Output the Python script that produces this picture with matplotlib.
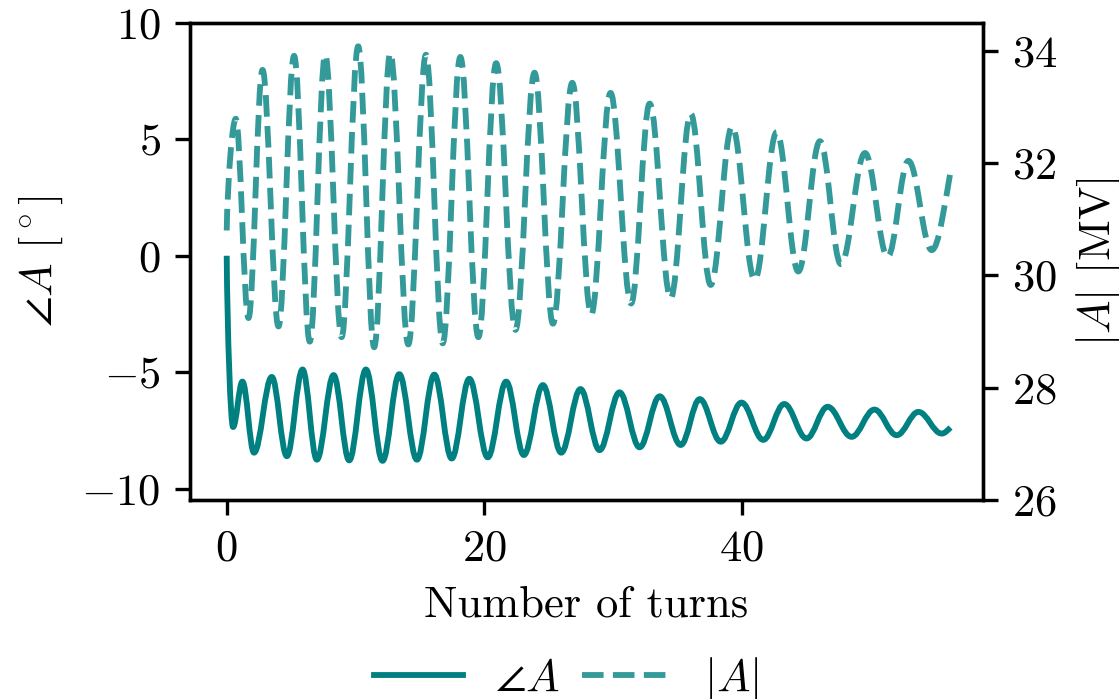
import matplotlib
matplotlib.use("Agg")
import matplotlib.pyplot as plt
from matplotlib.path import Path
from matplotlib.patches import PathPatch
from matplotlib.lines import Line2D

# ---- data (extrema of the oscillations) ----
angle_turns = [0, 0.49, 1.22, 2.12, 3.5, 4.67, 5.89, 7.0, 8.3, 9.51, 10.81, 12.1,
               13.4, 14.77, 16.12, 17.47, 18.84, 20.27, 21.7, 23.07, 24.55, 25.97,
               27.47, 28.95, 30.5, 32.06, 33.62, 35.25, 36.73, 38.36, 39.97, 41.66,
               43.29, 45.02, 46.66, 48.52, 50.29, 52.02, 53.71, 55.52, 56.2]
angle_deg = [0, -7.35, -5.4, -8.45, -5.2, -8.6, -4.88, -8.75, -5.12, -8.78, -4.88,
             -8.8, -5.08, -8.75, -5.1, -8.7, -5.28, -8.65, -5.4, -8.55, -5.55, -8.45,
             -5.72, -8.34, -5.86, -8.22, -6.03, -8.12, -6.15, -7.98, -6.3, -7.9,
             -6.36, -7.84, -6.48, -7.77, -6.6, -7.7, -6.7, -7.63, -7.37]

amp_turns = [0, 0.7, 1.69, 2.78, 4.02, 5.23, 6.45, 7.65, 8.92, 10.21, 11.45, 12.7,
             14.1, 15.47, 16.77, 18.14, 19.54, 20.92, 22.42, 23.9, 25.33, 26.83,
             28.3, 29.8, 31.4, 32.84, 34.47, 36.03, 37.58, 39.24, 41.0, 42.7, 44.38,
             46.06, 47.69, 49.56, 51.32, 52.93, 54.74, 56.2]
amp_MV = [30.8, 32.79, 29.24, 33.66, 29.09, 33.91, 28.82, 33.93, 28.9, 34.08, 28.72,
          33.96, 28.77, 33.93, 28.79, 33.89, 28.9, 33.78, 29.03, 33.61, 29.14, 33.43,
          29.3, 33.25, 29.5, 33.06, 29.59, 32.88, 29.83, 32.65, 29.92, 32.55, 30.07,
          32.39, 30.2, 32.18, 30.33, 32.04, 30.45, 31.85]

x_ticks = [0, 20, 40]
left_ticks = [-10, -5, 0, 5, 10]
right_ticks = [26, 28, 30, 32, 34]

labels = [r"$\angle A$", r"${|}A{|}$"]
xlabel = "Number of turns"
ylabel_left = r"$\angle A$ [$^\circ$]"
ylabel_right = r"${|}A{|}$ [MV]"

# ---- style ----
plt.rcParams["font.family"] = "serif"
plt.rcParams["font.serif"] = ["cmr10"]
plt.rcParams["mathtext.fontset"] = "cm"
plt.rcParams["axes.formatter.use_mathtext"] = True
plt.rcParams["font.size"] = 10.7
plt.rcParams["axes.unicode_minus"] = True

LW = 1.4
solid_color = "teal"
dash_alpha = 0.8


def smooth_path(xs, ys, k=0.37, free_start=False, free_end=False):
    """Cubic Bezier path through the extrema with flat tangents at each extremum."""
    verts = [(xs[0], ys[0])]
    codes = [Path.MOVETO]
    n = len(xs)
    for i in range(n - 1):
        x0, y0, x1, y1 = xs[i], ys[i], xs[i + 1], ys[i + 1]
        dx = x1 - x0
        c1 = (x0 + k * dx, y0)
        c2 = (x1 - k * dx, y1)
        if i == 0 and free_start:
            c1 = (x0 + 0.1 * dx, y0 + 0.45 * (y1 - y0))
        if i == n - 2 and free_end:
            c2 = (x1 - 0.3 * dx, y1 - 0.4 * (y1 - y0))
        verts += [c1, c2, (x1, y1)]
        codes += [Path.CURVE4] * 3
    return Path(verts, codes)


fig = plt.figure(figsize=(1119 / 300, 699 / 300), dpi=300)
ax = fig.add_axes([0.1698, 0.2847, 0.7084, 0.6828])
ax2 = ax.twinx()

p1 = PathPatch(smooth_path(angle_turns, angle_deg, free_start=True, free_end=True),
               facecolor="none", edgecolor=solid_color, lw=LW, capstyle="butt",
               joinstyle="round")
ax.add_patch(p1)

p2 = PathPatch(smooth_path(amp_turns, amp_MV, free_start=True, free_end=True),
               facecolor="none", edgecolor=solid_color, alpha=dash_alpha, lw=LW,
               linestyle="--", capstyle="butt", joinstyle="round")
ax2.add_patch(p2)

ax.set_xlim(-2.85, 58.7)
ax.set_ylim(-10.48, 10)
ax2.set_ylim(26, 34.5)
ax.set_xticks(x_ticks)
ax.set_yticks(left_ticks)
ax2.set_yticks(right_ticks)

ax.set_xlabel(xlabel)
ax.set_ylabel(ylabel_left)
ax2.set_ylabel(ylabel_right)

handles = [Line2D([], [], color=solid_color, lw=LW),
           Line2D([], [], color=solid_color, lw=LW, ls="--", alpha=dash_alpha)]
fig.legend(handles, labels, loc="center", bbox_to_anchor=(0.506, 0.028), ncol=2,
           frameon=False, columnspacing=0.5, handlelength=2.0, handletextpad=0.72)

fig.savefig("out.png", dpi=300)
